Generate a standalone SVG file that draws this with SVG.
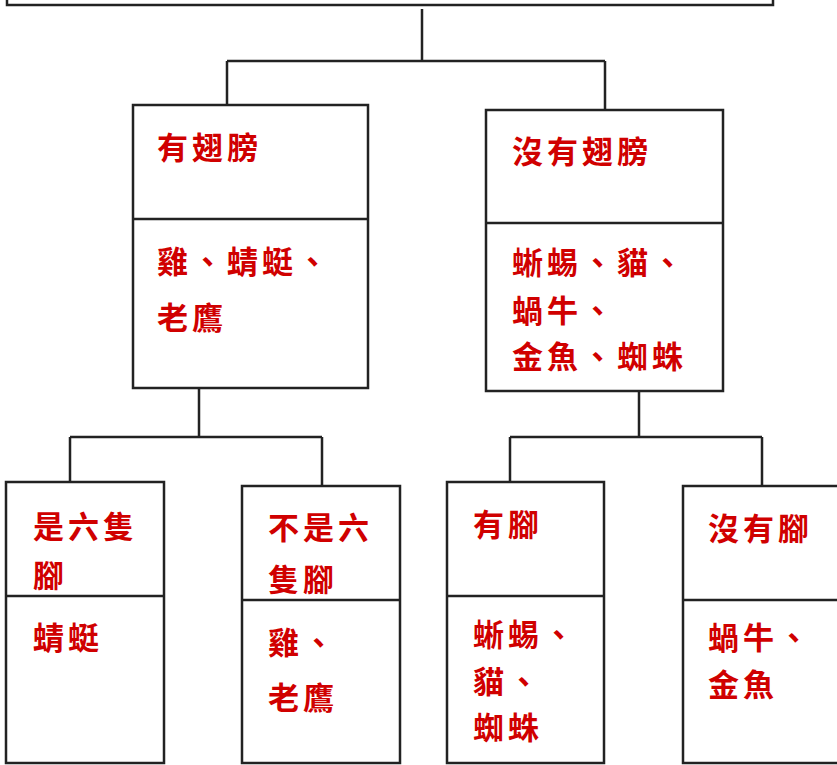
<svg xmlns="http://www.w3.org/2000/svg" width="837" height="765" viewBox="0 0 837 765">
<style>
.box{fill:#fff;stroke:#222;stroke-width:2.5}
.div{stroke:#222;stroke-width:2.5}
.con{stroke:#222;stroke-width:2.5;fill:none}
.t{font-family:"Noto Sans CJK TC","Noto Sans CJK SC",sans-serif;font-size:31px;font-weight:bold;fill:#d00000;letter-spacing:4px}
</style>
<rect width="837" height="765" fill="#fff"/>
<g id="root">
<rect class="box" x="7" y="-40" width="766" height="45"/>
</g>
<g id="connectors">
<path class="con" d="M422 9V61M227 61H605M227 61V105M605 61V110"/>
<path class="con" d="M199 388V437M70 437H322M70 437V482M322 437V486"/>
<path class="con" d="M639 391V437M510 437H762M510 437V482M762 437V486"/>
</g>
<g id="wings">
<rect class="box" x="133" y="105" width="235" height="283"/>
<line class="div" x1="133" y1="219" x2="368" y2="219"/>
<text class="t" x="157" y="159">有翅膀</text>
<text class="t" x="157" y="273">雞、蜻蜓、</text>
<text class="t" x="157" y="329">老鷹</text>
</g>
<g id="nowings">
<rect class="box" x="486" y="110" width="237" height="281"/>
<line class="div" x1="486" y1="223" x2="723" y2="223"/>
<text class="t" x="512" y="163">沒有翅膀</text>
<text class="t" x="512" y="274">蜥蜴、貓、</text>
<text class="t" x="512" y="322">蝸牛、</text>
<text class="t" x="512" y="368">金魚、蜘蛛</text>
</g>
<g id="sixlegs">
<rect class="box" x="6" y="482" width="158" height="281"/>
<line class="div" x1="6" y1="596" x2="164" y2="596"/>
<text class="t" x="33" y="538">是六隻</text>
<text class="t" x="33" y="587">腳</text>
<text class="t" x="33" y="649">蜻蜓</text>
</g>
<g id="notsixlegs">
<rect class="box" x="242" y="486" width="158" height="277"/>
<line class="div" x1="242" y1="600" x2="400" y2="600"/>
<text class="t" x="268" y="539">不是六</text>
<text class="t" x="268" y="591">隻腳</text>
<text class="t" x="268" y="654">雞、</text>
<text class="t" x="268" y="709">老鷹</text>
</g>
<g id="legs">
<rect class="box" x="447" y="482" width="157" height="281"/>
<line class="div" x1="447" y1="596" x2="604" y2="596"/>
<text class="t" x="473" y="536">有腳</text>
<text class="t" x="473" y="646">蜥蜴、</text>
<text class="t" x="473" y="693">貓、</text>
<text class="t" x="473" y="739">蜘蛛</text>
</g>
<g id="nolegs">
<rect class="box" x="683" y="486" width="170" height="277"/>
<line class="div" x1="683" y1="600" x2="853" y2="600"/>
<text class="t" x="708" y="540">沒有腳</text>
<text class="t" x="708" y="649">蝸牛、</text>
<text class="t" x="708" y="696">金魚</text>
</g>
</svg>
